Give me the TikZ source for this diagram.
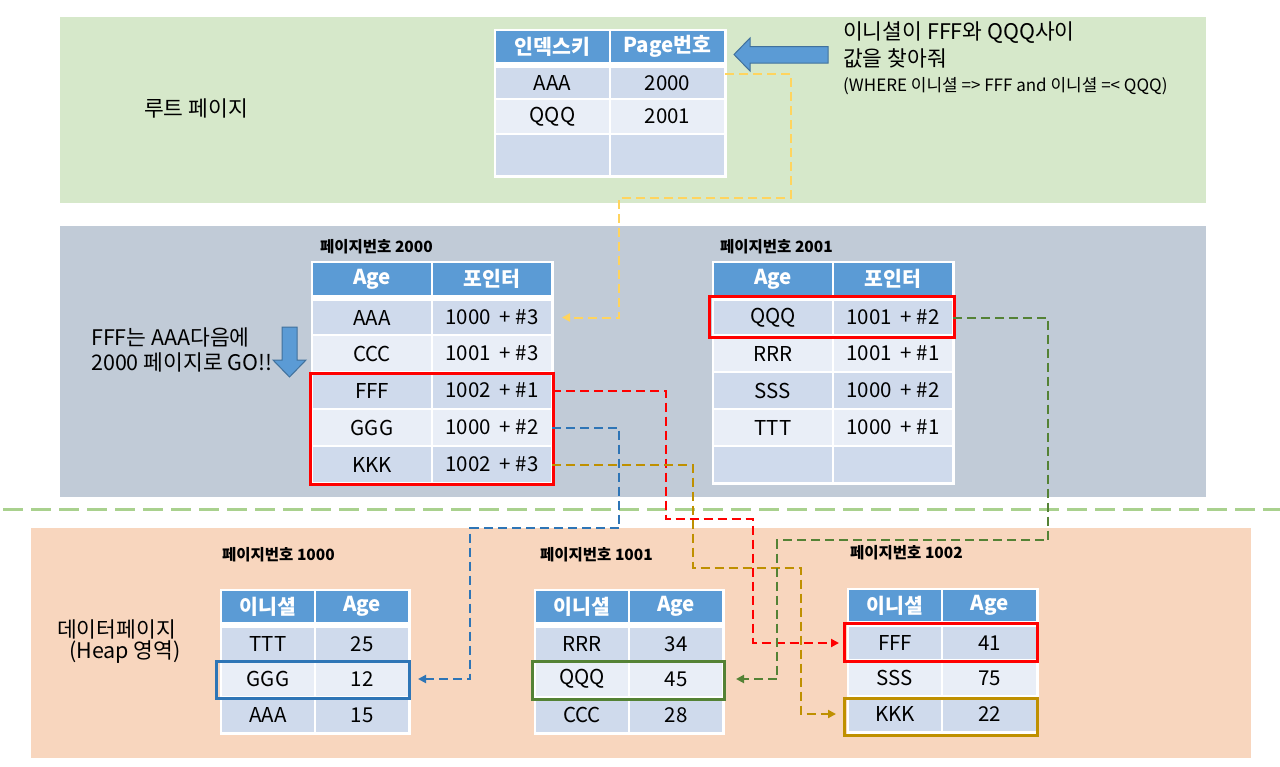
\documentclass[tikz,border=0pt]{standalone}
\usepackage{fontspec}
\setmainfont{Noto Sans CJK KR}
\usetikzlibrary{arrows.meta}
\definecolor{bggreen}{HTML}{D6E8CA}
\definecolor{bggray}{HTML}{C1CBD7}
\definecolor{bgpeach}{HTML}{F8D6BE}
\definecolor{sepgreen}{HTML}{A9D18E}
\definecolor{hdrblue}{HTML}{5B9BD5}
\definecolor{rowdk}{HTML}{CFDAEC}
\definecolor{rowlt}{HTML}{E9EEF7}
\definecolor{arrowedge}{HTML}{41719C}
\definecolor{lnyellow}{HTML}{FFD45E}
\definecolor{lnblue}{HTML}{2E75B6}
\definecolor{lngold}{HTML}{BF9000}
\definecolor{lngreen}{HTML}{548235}
\definecolor{lnred}{HTML}{FF0000}
\newcommand\mkrow[9]{%
  \node[cellc,#7,minimum width={#3-#2},minimum height={#6-#5},anchor=north west] (#1a) at (#2,#5) {#8};
  \node[cellc,#7,minimum width={#4-#3},minimum height={#6-#5},anchor=north west] (#1b) at (#3,#5) {#9};
}
\newcommand\mkbg[4]{\fill[white] (#1-1.5,#2-1.5) rectangle (#3+1.5,#4+1.5);}
\begin{document}
\begin{tikzpicture}[x=1pt,y=-1pt,
  cellc/.style={draw=white,line width=1.5pt,inner sep=0pt,outer sep=0pt,
    font=\fontsize{20.5}{22}\selectfont},
  hdr/.style={fill=hdrblue,text=white,font=\bfseries\fontsize{20.5}{22}\selectfont},
  dk/.style={fill=rowdk},
  lt/.style={fill=rowlt},
  lbl/.style={font=\bfseries\fontsize{15.5}{17}\selectfont,anchor=west,inner sep=0pt},
  txt/.style={font=\fontsize{21.5}{24}\selectfont,anchor=west,inner sep=0pt},
  hl/.style={line width=3pt},
  conn/.style={line width=2pt,dash pattern=on 9pt off 5pt,
    -{Triangle[length=8pt,width=8pt]}},
  blockarrow/.style={fill=hdrblue,draw=arrowedge,line width=1pt}
]
\useasboundingbox (0,0) rectangle (1280,766);
% backgrounds
\fill[bggreen] (60,17) rectangle (1206,203);
\fill[bggray] (60,226) rectangle (1206,497);
\fill[bgpeach] (31,528) rectangle (1251,758);
\draw[sepgreen,line width=3pt,dash pattern=on 20pt off 8pt] (3,509) -- (1280,509);

% root page
\node[txt] (roottxt) at (144,108) {루트 페이지};
\mkbg{495}{30}{725}{176}
\mkrow{rh}{495}{610}{725}{30}{63}{hdr}{인덱스키}{Page번호}
\mkrow{r1}{495}{610}{725}{67}{99}{dk}{AAA}{2000}
\mkrow{r2}{495}{610}{725}{99}{134}{lt}{QQQ}{2001}
\mkrow{r3}{495}{610}{725}{134}{176}{dk}{}{}
\draw[blockarrow] (734,54.5) -- (750,38) -- (750,46.5) -- (828,46.5) -- (828,63) -- (750,63) -- (750,71) -- cycle;
\node[txt] (q1) at (843,33) {이니셜이 FFF와 QQQ사이};
\node[txt] (q2) at (843,58) {값을 찾아줘};
\node[txt,font=\fontsize{17}{20}\selectfont] (q3) at (843,86) {(WHERE 이니셜 => FFF and 이니셜 =< QQQ)};

% page 2000
\node[lbl] (l2000) at (320,247) {페이지번호 2000};
\mkbg{312}{262}{552}{483}
\mkrow{ph}{312}{432}{552}{262}{296}{hdr}{Age}{포인터}
\mkrow{p1}{312}{432}{552}{300}{335}{dk}{AAA}{1000~~+~\#3}
\mkrow{p2}{312}{432}{552}{335}{372}{lt}{CCC}{1001~~+~\#3}
\mkrow{p3}{312}{432}{552}{372}{409}{dk}{FFF}{1002~~+~\#1}
\mkrow{p4}{312}{432}{552}{409}{446}{lt}{GGG}{1000~~+~\#2}
\mkrow{p5}{312}{432}{552}{446}{483}{dk}{KKK}{1002~~+~\#3}
\draw[hl,lnred] (310,373) rectangle (553,484);
\node[txt] (go1) at (91,337) {FFF는 AAA다음에};
\node[txt] (go2) at (91,362) {2000 페이지로 GO!!};
\draw[blockarrow] (282,327) -- (297,327) -- (297,360) -- (306,360) -- (289.5,377) -- (273,360) -- (282,360) -- cycle;

% page 2001
\node[lbl] (l2001) at (720,247) {페이지번호 2001};
\mkbg{713}{262}{953}{483}
\mkrow{sh}{713}{833}{953}{262}{296}{hdr}{Age}{포인터}
\mkrow{s1}{713}{833}{953}{300}{335}{dk}{QQQ}{1001~~+~\#2}
\mkrow{s2}{713}{833}{953}{335}{372}{lt}{RRR}{1001~~+~\#1}
\mkrow{s3}{713}{833}{953}{372}{409}{dk}{SSS}{1000~~+~\#2}
\mkrow{s4}{713}{833}{953}{409}{446}{lt}{TTT}{1000~~+~\#1}
\mkrow{s5}{713}{833}{953}{446}{483}{dk}{}{}
\draw[hl,lnred] (709,296.5) rectangle (954,337);

% data pages
\node[txt] (dp1) at (57,629) {데이터페이지};
\node[txt] (dp2) at (69,652) {(Heap 영역)};

\node[lbl] (l1000) at (222,555) {페이지번호 1000};
\mkbg{221}{590}{409}{733}
\mkrow{ah}{221}{315}{409}{590}{623}{hdr}{이니셜}{Age}
\mkrow{a1}{221}{315}{409}{627}{661}{dk}{TTT}{25}
\mkrow{a2}{221}{315}{409}{661}{697}{lt}{GGG}{12}
\mkrow{a3}{221}{315}{409}{697}{733}{dk}{AAA}{15}
\draw[hl,lnblue] (216,661) rectangle (409,698);

\node[lbl] (l1001) at (540,555) {페이지번호 1001};
\mkbg{535}{590}{723}{733}
\mkrow{bh}{535}{629}{723}{590}{623}{hdr}{이니셜}{Age}
\mkrow{b1}{535}{629}{723}{627}{661}{dk}{RRR}{34}
\mkrow{b2}{535}{629}{723}{661}{697}{lt}{QQQ}{45}
\mkrow{b3}{535}{629}{723}{697}{733}{dk}{CCC}{28}
\draw[hl,lngreen] (532,661) rectangle (724,699);

\node[lbl] (l1002) at (850,553) {페이지번호 1002};
\mkbg{848}{589}{1037}{732}
\mkrow{ch}{848}{942}{1037}{589}{622}{hdr}{이니셜}{Age}
\mkrow{c1}{848}{942}{1037}{626}{660}{dk}{FFF}{41}
\mkrow{c2}{848}{942}{1037}{660}{696}{lt}{SSS}{75}
\mkrow{c3}{848}{942}{1037}{696}{732}{dk}{KKK}{22}
\draw[hl,lnred] (844,623) rectangle (1037,661);
\draw[hl,lngold] (844,698) rectangle (1037,735);

% connectors
\draw[conn,lnyellow] ([yshift=9pt]r1b.east) -| (791,198) -- (619,198) |- ([xshift=10pt]p1b.east);
\draw[conn,lnred] (p3b.east) -| (666,519) -- (753,519) |- ([xshift=-9pt]c1a.west);
\draw[conn,lnblue] (p4b.east) -| (619,528) -- (470,528) |- ([xshift=9pt]a2b.east);
\draw[conn,lngold] (p5b.east) -| (693,568) -- (801,568) |- ([xshift=-12pt]c3a.west);
\draw[conn,lngreen] (s1b.east) -| (1048,540) -- (777,540) |- ([xshift=13pt]b2b.east);
\end{tikzpicture}
\end{document}
